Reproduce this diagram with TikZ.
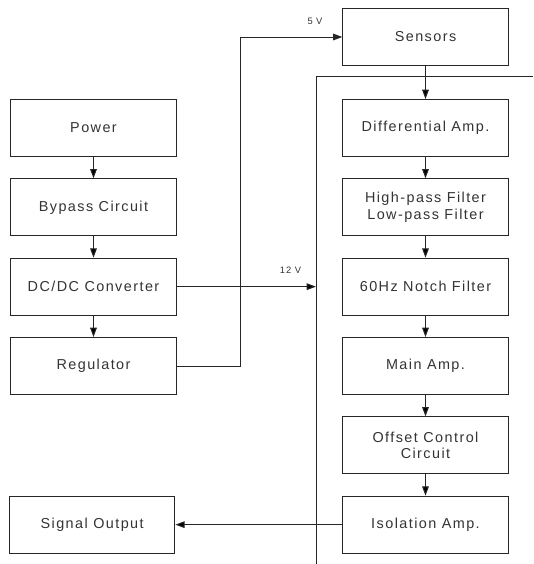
\documentclass[tikz,border=0pt]{standalone}
\usepackage{fontspec}
\setmainfont[LetterSpace=10]{Liberation Sans}
\usetikzlibrary{positioning,arrows.meta}

\begin{document}
\begin{tikzpicture}[x=0.75pt,y=-0.75pt,node distance=59.5pt,on grid,
  >={Triangle[length=7pt,width=5pt]},
  block/.style={draw=black!85,line width=0.75pt,minimum width=124pt,
    minimum height=42.75pt,align=center,text=black!80,
    font=\fontsize{10.8}{12.5}\selectfont},
  volt/.style={text=black!80,inner sep=0pt,font=\fontsize{7}{8}\selectfont},
  wire/.style={draw=black!85,line width=0.75pt}]
  \useasboundingbox (0,0) rectangle (533,564);
  % signal chain
  \node[block] (sen) at (425.5,37) {Sensors};
  \node[block] (diff) [below=68.25pt of sen] {Differential Amp.};
  \node[block] (filt) [below=of diff] {High-pass Filter\\Low-pass Filter};
  \node[block] (notch) [below=of filt] {60Hz Notch Filter};
  \node[block] (main) [below=of notch] {Main Amp.};
  \node[block] (ofs) [below=of main] {Offset Control\\ Circuit};
  \node[block] (iso) [below=of ofs] {Isolation Amp.};
  % supply chain
  \node[block] (pwr) [left=249pt of diff] {Power};
  \node[block] (byp) [below=of pwr] {Bypass Circuit};
  \node[block] (dcdc) [below=of byp] {DC/DC Converter};
  \node[block] (reg) [below=of dcdc] {Regulator};
  \node[block] (out) [left=250pt of iso] {Signal Output};
  % isolation boundary
  \coordinate (busN) at (316,76.7);
  \coordinate (busE) at (533,76.7);
  \coordinate (busS) at (316,564);
  \coordinate (bus12) at (busN |- dcdc.east);
  \draw[wire] (busE) -- (busN) -- (busS);
  \path[wire,->]
  (sen) edge (diff)
  (diff) edge (filt)
  (filt) edge (notch)
  (notch) edge (main)
  (main) edge (ofs)
  (ofs) edge (iso)
  (iso) edge (out)
  (pwr) edge (byp)
  (byp) edge (dcdc)
  (dcdc) edge (reg)
  (dcdc) edge (bus12);
  \draw[wire,->] (reg.east) -- ++(64,0) |- (sen.west);
  \node[volt] (v5) at (315,21.7) {5 V};
  \node[volt] (v12) at (290.5,270.7) {12 V};
\end{tikzpicture}
\end{document}
